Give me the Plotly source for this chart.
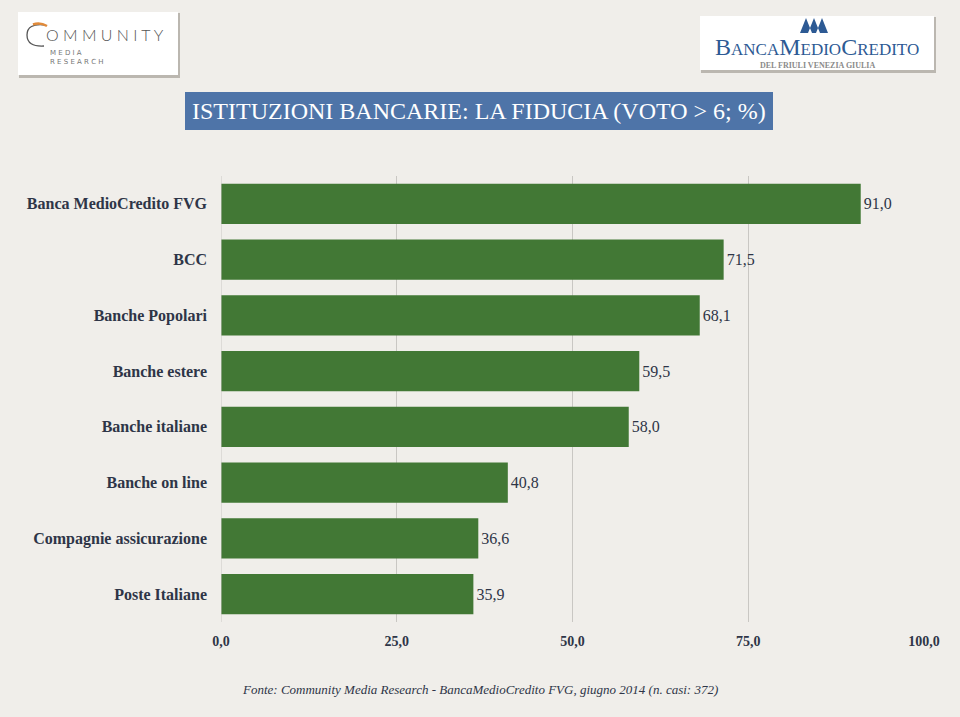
import plotly.graph_objects as go

# data (top to bottom as in the picture)
categories = [
    "Banca MedioCredito FVG",
    "BCC",
    "Banche Popolari",
    "Banche estere",
    "Banche italiane",
    "Banche on line",
    "Compagnie assicurazione",
    "Poste Italiane",
]
values = [91.0, 71.5, 68.1, 59.5, 58.0, 40.8, 36.6, 35.9]
x_ticks = [0, 25, 50, 75, 100]

W, H = 960, 717
INK = "#2e3547"
BAR = "#427835"
SERIF = "Palatino Linotype, Book Antiqua, Liberation Serif, DejaVu Serif, serif"


def px(x):
    return x / W


def py(y):
    return 1 - y / H


fig = go.Figure(
    go.Bar(
        x=values,
        y=categories,
        orientation="h",
        marker=dict(color=BAR, line=dict(width=0)),
        texttemplate="%{x:.1f}",
        textposition="outside",
        textfont=dict(family=SERIF, size=16, color=INK),
        cliponaxis=False,
        hoverinfo="skip",
    )
)

fig.update_layout(
    width=W,
    height=H,
    autosize=False,
    margin=dict(l=0, r=0, t=0, b=0, pad=0),
    paper_bgcolor="#f0eeea",
    plot_bgcolor="rgba(0,0,0,0)",
    separators=",.",
    bargap=0.28,
    showlegend=False,
    font=dict(family=SERIF, color=INK),
)

fig.update_xaxes(
    domain=[px(221), px(924)],
    range=[0, 100],
    tickvals=x_ticks,
    tickformat=".1f",
    showgrid=True,
    gridcolor="#c9c7c3",
    gridwidth=1,
    zeroline=False,
    showline=False,
    automargin=False,
    ticks="outside",
    ticklen=6,
    tickcolor="rgba(0,0,0,0)",
    tickfont=dict(family=SERIF, size=14, color=INK, weight="bold"),
    fixedrange=True,
)
fig.update_yaxes(
    domain=[py(622), py(176)],
    categoryorder="array",
    categoryarray=categories[::-1],
    showgrid=False,
    zeroline=False,
    showline=False,
    automargin=False,
    ticks="",
    ticklabelstandoff=13,
    tickfont=dict(family=SERIF, size=16, color=INK, weight="bold"),
    fixedrange=True,
)

shapes = []
annotations = []

# vertical line at 0 (axis)
shapes.append(dict(type="line", xref="x", yref="paper", x0=0, x1=0,
                   y0=py(622), y1=py(176), line=dict(color="#c9c7c3", width=1)))

# title banner
shapes.append(dict(type="rect", xref="paper", yref="paper",
                   x0=px(185), x1=px(773), y0=py(130), y1=py(92),
                   fillcolor="#4e74a8", line=dict(width=0), layer="below"))
annotations.append(dict(text="ISTITUZIONI BANCARIE: LA FIDUCIA (VOTO &gt; 6; %)",
                        xref="paper", yref="paper", x=px(479), y=py(111),
                        showarrow=False, xanchor="center", yanchor="middle",
                        font=dict(family=SERIF, size=24, color="white")))

# logo boxes with soft shadow
for x0, x1, y0, y1 in [(18, 178, 12, 75), (700, 934, 16, 70)]:
    shapes.append(dict(type="rect", xref="paper", yref="paper",
                       x0=px(x0 + 1), x1=px(x1 + 2), y0=py(y1 + 3), y1=py(y0 + 1),
                       fillcolor="rgba(90,80,70,0.35)", line=dict(width=0), layer="below"))
    shapes.append(dict(type="rect", xref="paper", yref="paper",
                       x0=px(x0), x1=px(x1), y0=py(y1), y1=py(y0),
                       fillcolor="white", line=dict(width=0), layer="below"))

# Community Media Research logo
shapes.append(dict(type="path", xref="paper", yref="paper",
                   path=(f"M {px(45)},{py(25)} Q {px(27)},{py(23)} {px(27)},{py(35)} "
                         f"Q {px(27)},{py(47)} {px(44)},{py(46)}"),
                   line=dict(color="#555555", width=1.3)))
shapes.append(dict(type="path", xref="paper", yref="paper",
                   path=f"M {px(33)},{py(24.5)} Q {px(40)},{py(22)} {px(47)},{py(26)}",
                   line=dict(color="#e08a3a", width=2.5)))
annotations.append(dict(text="O M M U N I T Y", xref="paper", yref="paper",
                        x=px(44), y=py(35), showarrow=False, xanchor="left",
                        yanchor="middle",
                        font=dict(family="Lato, Open Sans, sans-serif", size=16,
                                  color="#555555", weight=300)))
annotations.append(dict(text="M E D I A<br>R E S E A R C H", xref="paper", yref="paper",
                        x=px(48), y=py(57), showarrow=False, xanchor="left",
                        yanchor="middle", align="left",
                        font=dict(family="DejaVu Sans, sans-serif", size=7,
                                  color="#777777")))

# BancaMedioCredito logo
shapes.append(dict(type="path", xref="paper", yref="paper",
                   path=(f"M {px(800)},{py(33)} L {px(806)},{py(18)} L {px(812)},{py(33)} Z "
                         f"M {px(808)},{py(33)} L {px(814)},{py(18)} L {px(820)},{py(33)} Z "
                         f"M {px(816)},{py(33)} L {px(822)},{py(18)} L {px(828)},{py(33)} Z"),
                   fillcolor="#2d5a94", line=dict(width=0)))
annotations.append(dict(text="B<span style='font-size:17px'>ANCA</span>M<span style='font-size:17px'>EDIO</span>C<span style='font-size:17px'>REDITO</span>",
                        xref="paper", yref="paper", x=px(817), y=py(47),
                        showarrow=False, xanchor="center", yanchor="middle",
                        font=dict(family=SERIF, size=24, color="#2d5a94")))
annotations.append(dict(text="DEL FRIULI VENEZIA GIULIA", xref="paper", yref="paper",
                        x=px(817), y=py(65.5), showarrow=False, xanchor="center",
                        yanchor="middle",
                        font=dict(family=SERIF, size=8, color="#8a8a8a", weight="bold")))

# footer source
annotations.append(dict(text="<i>Fonte: Community Media Research - BancaMedioCredito FVG, giugno 2014 (n. casi: 372)</i>",
                        xref="paper", yref="paper", x=px(480), y=py(689),
                        showarrow=False, xanchor="center", yanchor="middle",
                        font=dict(family=SERIF, size=13, color=INK)))

fig.update_layout(shapes=shapes, annotations=annotations)

fig.write_html("out.html", config=dict(displayModeBar=False),
               post_script="document.body.style.margin='0';")
